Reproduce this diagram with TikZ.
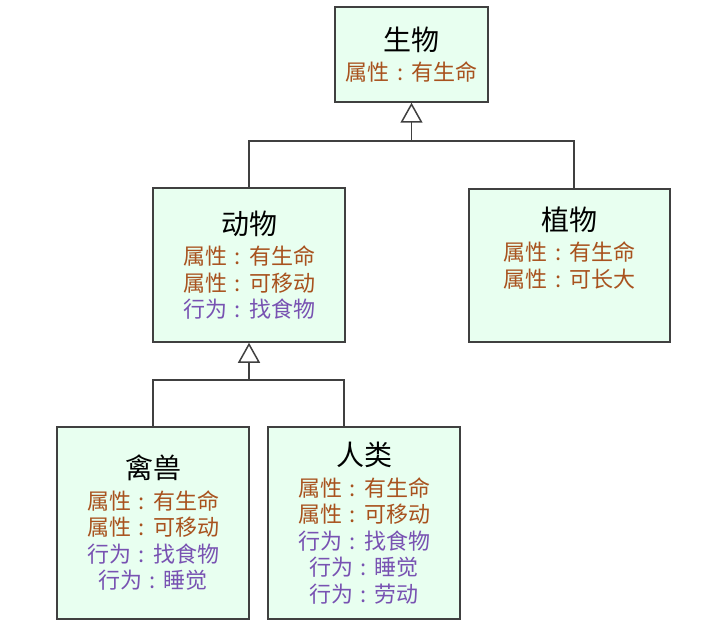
\documentclass[tikz,border=0pt]{standalone}
\usepackage{fontspec}
\setmainfont{Noto Sans CJK SC}
\usepackage{xcolor}
\usepackage{tikz}
\usetikzlibrary{arrows.meta}
\usetikzlibrary{positioning}

\definecolor{boxfill}{RGB}{232,255,240}
\definecolor{boxline}{RGB}{64,64,64}
\definecolor{attrbrown}{RGB}{168,82,30}
\definecolor{actpurple}{RGB}{120,82,178}

\newcommand{\colonsep}{\makebox[1em][c]{:}}
\newcommand{\attr}[1]{\textcolor{attrbrown}{属性\colonsep #1}}
\newcommand{\act}[1]{\textcolor{actpurple}{行为\colonsep #1}}
\newcommand{\ctitle}[1]{{\fontsize{28}{30}\selectfont #1}}

\begin{document}
\begin{tikzpicture}[x=1pt,y=-1pt,
	classbox/.style={draw=boxline,fill=boxfill,line width=1.5pt,align=center,inner sep=0pt,
		font=\fontsize{22}{26.5}\selectfont},
	tree/.style={draw=boxline,line width=1.5pt},
	inherit/.style={tree,-{Triangle[open,length=20pt,width=22pt,line width=1.5pt]}}]

	\useasboundingbox (0,0) rectangle (710,631);

	% top class
	\node [classbox,minimum width=153,minimum height=95] (being) at (411.5,54.5)
		{\ctitle{生物}\\[4pt] \attr{有生命}};

	% second level
	\node [classbox,minimum width=192,minimum height=154] (animal) at (249,265)
		{\ctitle{动物}\\[4pt] \attr{有生命}\\ \attr{可移动}\\ \act{找食物}};
	\node [classbox,minimum width=201,minimum height=153] (plant) at (569.5,265.5) {};
	\node [align=center,font=\fontsize{22}{26.5}\selectfont] (plant-text) at (569.5,248)
		{\ctitle{植物}\\[4pt] \attr{有生命}\\ \attr{可长大}};

	% third level
	\node [classbox,minimum width=192,minimum height=192] (beast) at (153,523)
		{\ctitle{禽兽}\\[4pt] \attr{有生命}\\ \attr{可移动}\\ \act{找食物}\\ \act{睡觉}};
	\node [classbox,minimum width=192,minimum height=192] (human) at (364,523)
		{\ctitle{人类}\\[4pt] \attr{有生命}\\ \attr{可移动}\\ \act{找食物}\\ \act{睡觉}\\ \act{劳动}};

	% generalisation lines
	\coordinate (joint-top) at (411.5,141);
	\coordinate (joint-mid) at (249,380);
	\draw [inherit] (joint-top) -- (being.south);
	\draw [tree] (animal.north) |- (joint-top) -| ([xshift=4.5pt]plant.north);
	\draw [inherit] (joint-mid) -- (animal.south);
	\draw [tree] (beast.north) |- (joint-mid) -| ([xshift=-20pt]human.north);
\end{tikzpicture}
\end{document}
